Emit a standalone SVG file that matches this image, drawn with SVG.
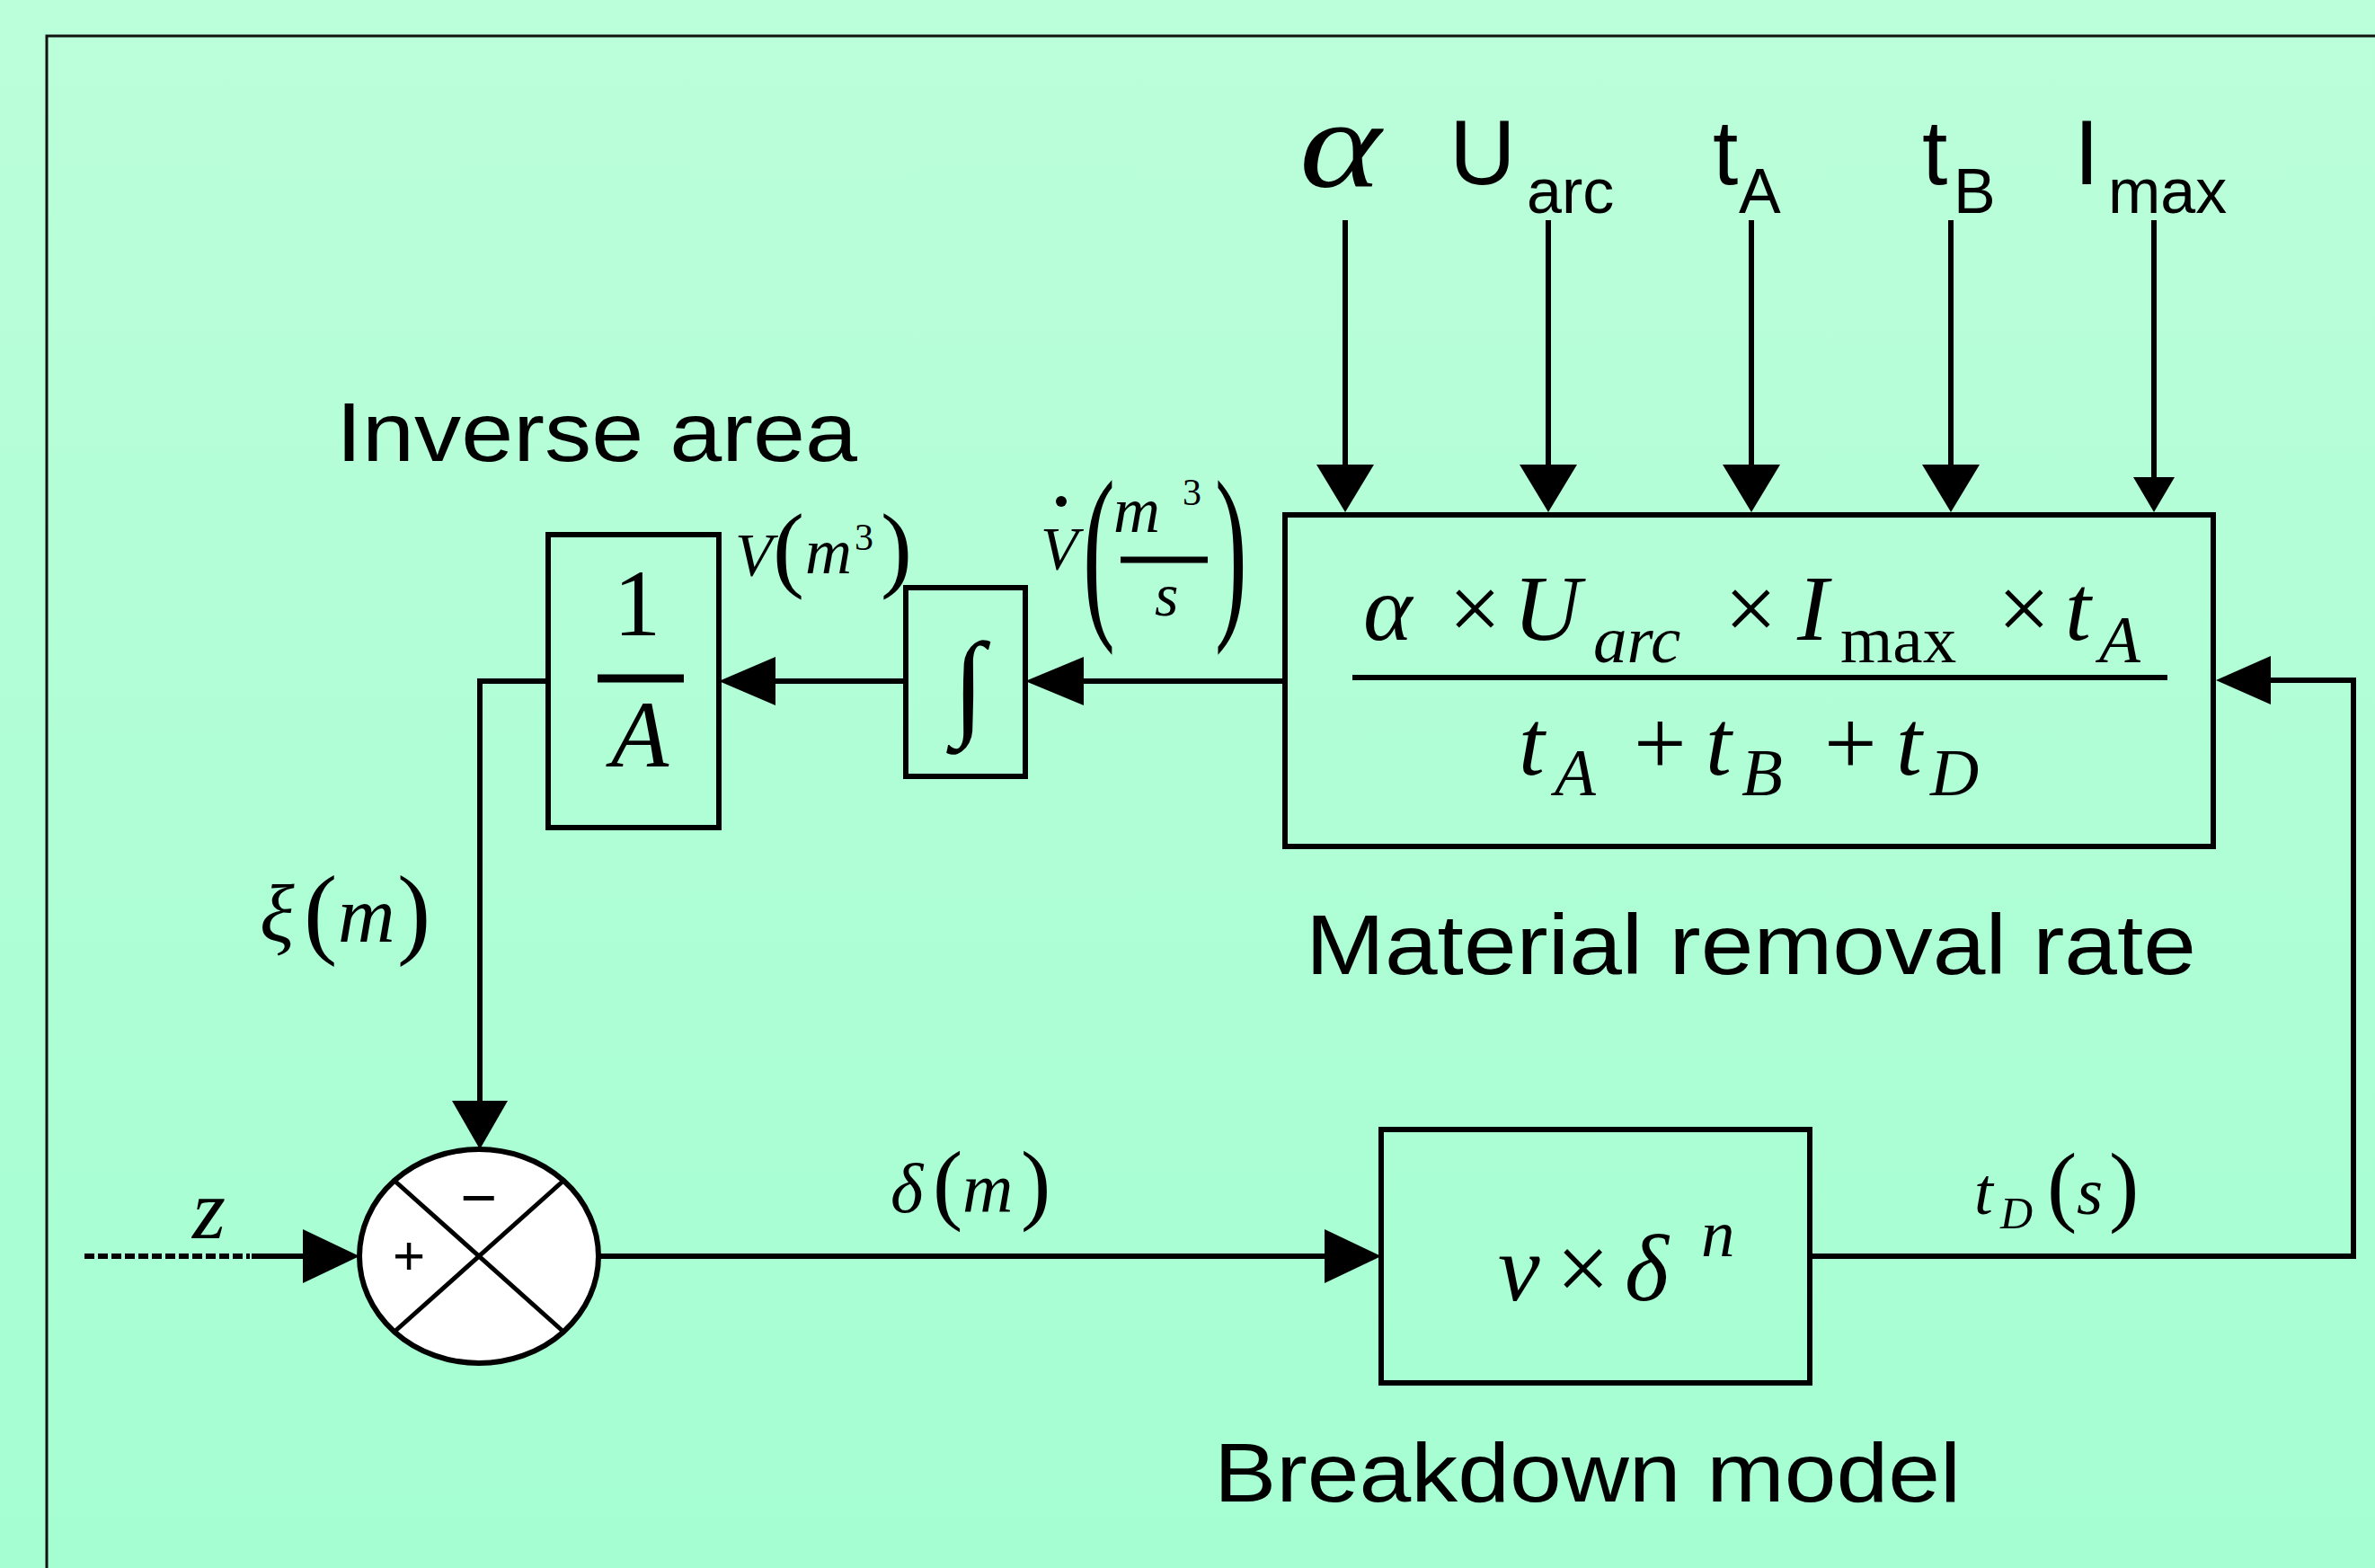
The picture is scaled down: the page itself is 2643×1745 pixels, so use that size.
<svg xmlns="http://www.w3.org/2000/svg" width="2643" height="1745" viewBox="0 0 2643 1745">
<defs>
<linearGradient id="bg" x1="0" y1="0" x2="0" y2="1">
<stop offset="0" stop-color="#bbfeda"/>
<stop offset="1" stop-color="#a5fed2"/>
</linearGradient>
<style>
.ln{fill:none;stroke:#000;stroke-width:6}
.box{fill:none;stroke:#000;stroke-width:6}
.ah{fill:#000;stroke:none}
.sans{font-family:"Liberation Sans",Arial,sans-serif;fill:#000}
.m{font-family:"Liberation Serif","Times New Roman",serif;font-style:italic;fill:#000}
.r{font-family:"Liberation Serif","Times New Roman",serif;font-style:normal;fill:#000}
</style>
</defs>
<rect x="0" y="0" width="2643" height="1745" fill="url(#bg)"/>
<path d="M52,1745 V40 H2643" fill="none" stroke="#111" stroke-width="3"/>

<g id="inputs">
<text class="m" x="1446" y="208" font-size="140" textLength="91" lengthAdjust="spacingAndGlyphs">α</text>
<text class="sans" font-size="102"><tspan x="1613" y="205">U</tspan><tspan x="1699" y="237" font-size="70">arc</tspan></text>
<text class="sans" font-size="102"><tspan x="1906" y="205">t</tspan><tspan x="1935" y="237" font-size="70">A</tspan></text>
<text class="sans" font-size="102"><tspan x="2139" y="205">t</tspan><tspan x="2174" y="237" font-size="70">B</tspan></text>
<text class="sans" font-size="102"><tspan x="2308" y="205">I</tspan><tspan x="2346" y="237" font-size="70">max</tspan></text>
</g>

<g id="mrr">
<rect class="box" x="1430" y="573" width="1033" height="369"/>
<line x1="1505" y1="754" x2="2412" y2="754" stroke="#000" stroke-width="6"/>
<text class="m" font-size="104"><tspan x="1517" y="712">α</tspan><tspan class="r" x="1612" y="712">×</tspan><tspan x="1684" y="712">U</tspan><tspan x="1773" y="737" font-size="75">arc</tspan><tspan class="r" x="1919" y="712">×</tspan><tspan x="2000" y="712">I</tspan><tspan class="r" x="2048" y="737" font-size="75">max</tspan><tspan class="r" x="2223" y="712">×</tspan><tspan x="2298" y="712">t</tspan><tspan x="2336" y="737" font-size="75">A</tspan></text>
<text class="m" font-size="104"><tspan x="1690" y="862">t</tspan><tspan x="1730" y="885" font-size="75">A</tspan><tspan class="r" x="1818" y="862">+</tspan><tspan x="1898" y="862">t</tspan><tspan x="1938" y="885" font-size="75">B</tspan><tspan class="r" x="2030" y="862">+</tspan><tspan x="2110" y="862">t</tspan><tspan x="2148" y="885" font-size="75">D</tspan></text>
<text class="sans" x="1453" y="1084" font-size="94" textLength="991" lengthAdjust="spacingAndGlyphs">Material removal rate</text>
</g>

<g id="integrator">
<rect class="box" x="1008" y="654" width="133" height="210"/>
<text class="r" x="1078" y="805" font-size="130" text-anchor="middle">∫</text>
</g>

<g id="inverse-area">
<rect class="box" x="610" y="595" width="190" height="326"/>
<line x1="665" y1="755" x2="761" y2="755" stroke="#000" stroke-width="9"/>
<text class="r" x="709" y="707" font-size="105" text-anchor="middle">1</text>
<text class="m" x="712" y="853" font-size="105" text-anchor="middle">A</text>
<text class="sans" x="374" y="513" font-size="92" textLength="580" lengthAdjust="spacingAndGlyphs">Inverse area</text>
</g>

<g id="breakdown">
<rect class="box" x="1537" y="1257" width="477" height="282"/>
<text class="m" font-size="105"><tspan x="1667" y="1447">v</tspan><tspan class="r" x="1732" y="1447">×</tspan><tspan x="1808" y="1447">δ</tspan><tspan x="1893" y="1398" font-size="75">n</tspan></text>
<text class="sans" x="1351" y="1671" font-size="92" textLength="831" lengthAdjust="spacingAndGlyphs">Breakdown model</text>
</g>

<g id="sum">
<ellipse cx="533" cy="1398" rx="133" ry="119" fill="#fff" stroke="#000" stroke-width="6"/>
<line x1="439" y1="1314" x2="627" y2="1482" stroke="#000" stroke-width="5"/>
<line x1="627" y1="1314" x2="439" y2="1482" stroke="#000" stroke-width="5"/>
<text class="sans" x="533" y="1357" font-size="70" text-anchor="middle">−</text>
<text class="sans" x="455" y="1418" font-size="62" text-anchor="middle">+</text>
</g>

<g id="connectors">
<line class="ln" x1="1497" y1="245" x2="1497" y2="520"/>
<polygon class="ah" points="1465,517 1529,517 1497,570"/>
<line class="ln" x1="1723" y1="245" x2="1723" y2="520"/>
<polygon class="ah" points="1691,517 1755,517 1723,570"/>
<line class="ln" x1="1949" y1="245" x2="1949" y2="520"/>
<polygon class="ah" points="1917,517 1981,517 1949,570"/>
<line class="ln" x1="2171" y1="245" x2="2171" y2="520"/>
<polygon class="ah" points="2139,517 2203,517 2171,570"/>
<line class="ln" x1="2397" y1="245" x2="2397" y2="535"/>
<polygon class="ah" points="2374,531 2420,531 2397,570"/>

<line class="ln" x1="1430" y1="758" x2="1200" y2="758"/>
<polygon class="ah" points="1141,758 1206,731 1206,785"/>
<line class="ln" x1="1008" y1="758" x2="860" y2="758"/>
<polygon class="ah" points="800,758 863,731 863,785"/>
<polyline class="ln" points="610,758 534,758 534,1230"/>
<polygon class="ah" points="503,1225 565,1225 534,1279"/>

<line x1="94" y1="1398" x2="278" y2="1398" stroke="#000" stroke-width="6" stroke-dasharray="11,4"/>
<line class="ln" x1="280" y1="1398" x2="340" y2="1398"/>
<polygon class="ah" points="400,1398 337,1368 337,1428"/>

<line class="ln" x1="666" y1="1398" x2="1478" y2="1398"/>
<polygon class="ah" points="1537,1398 1474,1368 1474,1428"/>

<polyline class="ln" points="2014,1398 2619,1398 2619,757 2522,757"/>
<polygon class="ah" points="2466,757 2527,730 2527,784"/>
</g>

<g id="labels">
<text class="m" font-size="90"><tspan x="289" y="1048">ξ</tspan><tspan class="r" x="338" y="1052" font-size="112">(</tspan><tspan x="376" y="1048" font-size="88">m</tspan><tspan class="r" x="442" y="1052" font-size="112">)</tspan></text>

<text class="m" font-size="68"><tspan x="818" y="640">V</tspan><tspan class="r" x="860" y="645" font-size="105">(</tspan><tspan x="896" y="638" font-size="72">m</tspan><tspan class="r" x="951" y="612" font-size="42">3</tspan><tspan class="r" x="980" y="645" font-size="105">)</tspan></text>

<text class="m" x="1158" y="633" font-size="68">V</text>
<circle cx="1181" cy="558" r="6" fill="#000"/>
<text class="r" transform="translate(1205,683) scale(0.5,1)" font-size="215">(</text>
<text class="m" font-size="72"><tspan x="1239" y="592">m</tspan><tspan class="r" x="1316" y="562" font-size="42">3</tspan></text>
<line x1="1247" y1="623" x2="1344" y2="623" stroke="#000" stroke-width="7"/>
<text class="m" x="1285" y="685" font-size="68">s</text>
<text class="r" transform="translate(1352,683) scale(0.5,1)" font-size="215">)</text>

<text class="m" x="214" y="1378" font-size="95">z</text>

<text class="m" font-size="78"><tspan x="991" y="1349">δ</tspan><tspan class="r" x="1038" y="1350" font-size="100">(</tspan><tspan x="1071" y="1349">m</tspan><tspan class="r" x="1136" y="1350" font-size="100">)</tspan></text>

<text class="m" font-size="75"><tspan x="2197" y="1351">t</tspan><tspan x="2226" y="1367" font-size="50">D</tspan><tspan class="r" x="2278" y="1352" font-size="100">(</tspan><tspan x="2311" y="1351">s</tspan><tspan class="r" x="2347" y="1352" font-size="100">)</tspan></text>
</g>
</svg>
